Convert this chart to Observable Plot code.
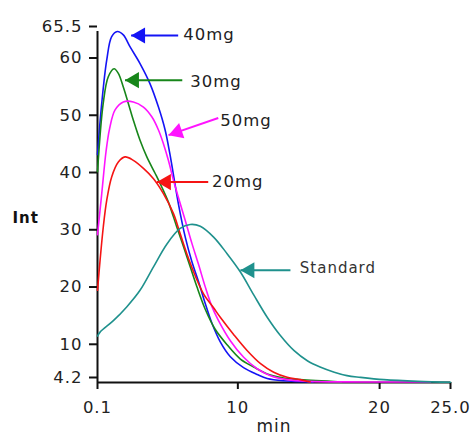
<!DOCTYPE html>
<html>
<head>
<meta charset="utf-8">
<script src="https://cdn.jsdelivr.net/npm/d3@7"></script>
<script src="https://cdn.jsdelivr.net/npm/@observablehq/plot@0.6"></script>
<style>
  body { margin: 0; background: #fff; }
  #chart svg text { letter-spacing: 1px; }
</style>
</head>
<body>
<div id="chart"></div>
<script>
// ---- data ----
const seriesNames = ["40mg", "30mg", "50mg", "20mg", "Standard"];
const seriesColors = ["#1414f5", "#17861a", "#ff14ff", "#f51414", "#1f918d"];

const t40 = [0.1, 0.4, 0.75, 1.1, 1.5, 1.92, 2.4, 3.1, 3.8, 4.4, 4.87, 5.2, 5.8, 6.29, 6.76, 7.23, 7.7, 8.18, 8.76, 9.47, 10.4, 11.36, 12.07, 13.2, 15.3];
const v40 = [44, 53, 60.5, 64.6, 65.5, 64.9, 62.8, 59.9, 56.4, 52.3, 48.3, 44.2, 35.5, 29.6, 25.3, 21.8, 18, 14.5, 11.3, 8.7, 6.8, 5.6, 4.9, 4.5, 4.3];

const t30 = [0.1, 0.5, 0.86, 1.27, 1.57, 1.92, 2.28, 2.63, 3.1, 3.58, 4.17, 4.64, 5.1, 5.7, 6.17, 6.64, 7.1, 7.7, 8.4, 9.24, 10.18, 11.12, 12.07, 13.24, 14.4, 17.3];
const v30 = [41, 52.9, 57.6, 59.0, 58.2, 55.8, 52.9, 50, 46.5, 43.6, 40.7, 38.3, 35.7, 31.3, 27.9, 24.4, 21, 17, 13.5, 10.8, 8.3, 6.9, 5.7, 5.0, 4.7, 4.3];

const t50 = [0.1, 0.4, 0.7, 0.95, 1.34, 1.92, 2.63, 3.34, 3.93, 4.4, 4.75, 5.1, 5.46, 5.75, 6.29, 6.76, 7.23, 7.7, 8.18, 8.6, 9.47, 10.41, 11.36, 12.3, 13.48, 15, 18.7, 23.6];
const v50 = [30, 37.2, 44.5, 48.5, 51.8, 53.2, 53.2, 52.3, 50.6, 48.3, 45.9, 43, 39.5, 37, 32.5, 28.5, 24.8, 20.9, 17.4, 15.2, 11.5, 8.6, 6.6, 5.4, 4.7, 4.4, 4.3, 4.3];

const t20 = [0.1, 0.28, 0.51, 0.75, 1.1, 1.57, 2.04, 2.63, 3.34, 4.05, 4.75, 5.46, 5.93, 6.4, 7.0, 7.6, 8.3, 8.76, 9.7, 10.65, 11.6, 12.53, 13.48, 14.4, 15.1];
const v20 = [20.3, 25.5, 31.4, 36, 40.1, 42.7, 43.6, 43, 41.6, 39.8, 37.2, 33.7, 30.2, 26.7, 22.8, 19.6, 17.2, 15.6, 12.6, 9.8, 7.5, 6.0, 5.1, 4.7, 4.3];

const tStd = [0.1, 0.28, 1.22, 2.16, 3.1, 4.05, 5.0, 5.93, 6.64, 7.35, 8.29, 9.24, 10.18, 11.12, 12.07, 13.0, 13.95, 14.9, 15.8, 16.8, 17.7, 18.66, 20.3, 22.7, 25];
const vStd = [12.3, 13, 15, 17.4, 20.3, 24.4, 28.4, 31.1, 31.8, 31.5, 29.6, 26.7, 23.5, 19.5, 15.6, 12.4, 9.8, 8.0, 6.9, 6.0, 5.4, 5.1, 4.7, 4.4, 4.25];

const xTicks = [0.1, 10, 20, 25.0];
const xTickLabels = ["0.1", "10", "20", "25.0"];
const yTicks = [4.2, 10, 20, 30, 40, 50, 60, 65.5];
const yTickLabels = ["4.2", "10", "20", "30", "40", "50", "60", "65.5"];

// annotations (label, arrow tip, arrow tail, text anchor) in data units
const annLabels = ["40mg", "30mg", "50mg", "20mg", "Standard"];
const annTipT  = [2.47, 2.04, 5.11, 4.29, 10.18];
const annTipV  = [64.8, 57.0, 47.4, 39.2, 23.8];
const annTailT = [5.79, 6.08, 8.62, 7.91, 13.71];
const annTailV = [64.8, 57.0, 50.4, 39.2, 23.8];
const annTextT = [6.15, 6.64, 8.76, 8.18, 14.37];
const annTextV = [64.9, 56.7, 50.0, 39.2, 24.1];

// ---- build tables ----
const seriesData = [[t40, v40], [t30, v30], [t50, v50], [t20, v20], [tStd, vStd]];
const rows = [];
seriesData.forEach(([ts, vs], k) => ts.forEach((t, i) => rows.push({s: seriesNames[k], t, v: vs[i]})));
const anns = annLabels.map((label, i) => ({
  label, tipT: annTipT[i], tipV: annTipV[i], tailT: annTailT[i], tailV: annTailV[i],
  textT: annTextT[i], textV: annTextV[i]
}));
const horiz = anns.filter(d => d.tipV === d.tailV);
const diag = anns.filter(d => d.tipV !== d.tailV);

const chart = Plot.plot({
  width: 475,
  height: 436,
  marginLeft: 97,
  marginRight: 25,
  marginTop: 31,
  marginBottom: 54,
  x: {domain: [0.1, 25]},
  y: {domain: [4.2, 65.5]},
  color: {domain: seriesNames, range: seriesColors},
  style: {fontFamily: "DejaVu Sans", fontSize: "16.5px", color: "#222", background: "#fff"},
  marks: [
    Plot.axisX(xTicks, {tickSize: 7, tickPadding: 12, strokeWidth: 2, stroke: "#111",
      tickFormat: d => xTickLabels[xTicks.indexOf(d)], label: null, fontSize: 16.5}),
    Plot.axisY(yTicks, {tickSize: 8, tickPadding: 7, strokeWidth: 2, stroke: "#111", dy: -5,
      tickFormat: d => yTickLabels[yTicks.indexOf(d)], label: null, fontSize: 16.5}),
    Plot.ruleX([0.1], {stroke: "#111", strokeWidth: 2}),
    Plot.ruleY([4.2], {stroke: "#111", strokeWidth: 2}),
    Plot.line(rows, {x: "t", y: "v", z: "s", stroke: "s", strokeWidth: 1.6, curve: "catmull-rom"}),
    Plot.link(anns, {x1: "tailT", y1: "tailV", x2: "tipT", y2: "tipV", stroke: "label", strokeWidth: 2}),
    Plot.dot(horiz, {x: "tipT", y: "tipV", fill: "label", symbol: "triangle", r: 6, rotate: -90, dx: 9.3}),
    Plot.dot(diag, {x: "tipT", y: "tipV", fill: "label", symbol: "triangle", r: 6, rotate: -109, dx: 8.8, dy: -3}),
    Plot.text(anns.filter(d => d.label !== "Standard"), {x: "textT", y: "textV", text: "label",
      textAnchor: "start", fontSize: 16.5, fill: "#222"}),
    Plot.text(anns.filter(d => d.label === "Standard"), {x: "textT", y: "textV", text: "label",
      textAnchor: "start", fontSize: 15, fill: "#333"}),
    Plot.text(["Int"], {frameAnchor: "left", dx: -85, dy: 11, textAnchor: "start",
      fontWeight: "bold", fontSize: 15, fill: "#111"}),
    Plot.text(["min"], {frameAnchor: "bottom", dy: 49, fontSize: 17, fill: "#222"})
  ]
});
document.getElementById("chart").appendChild(chart);
</script>
</body>
</html>
